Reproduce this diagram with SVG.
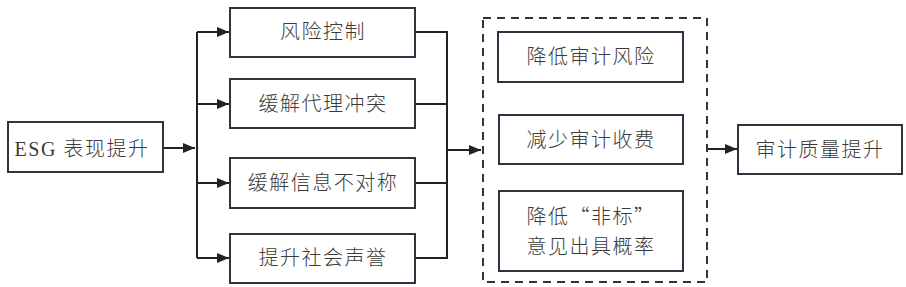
<svg xmlns="http://www.w3.org/2000/svg" width="906" height="287" viewBox="0 0 906 287">
<style>
.box{fill:#fff;stroke:#2f3440;stroke-width:2}
.dash{fill:none;stroke:#2f3440;stroke-width:2;stroke-dasharray:8,6}
.ln{fill:none;stroke:#222;stroke-width:2}
text{font-family:"Liberation Serif","Noto Sans CJK SC",serif;font-size:20px;font-weight:300;fill:#3a3a3a;text-anchor:middle;dominant-baseline:central;letter-spacing:1.5px}
text.cjk{font-family:"Noto Sans CJK SC",sans-serif}
</style>
<defs>
<marker id="ah" markerWidth="12" markerHeight="10" refX="12" refY="5" orient="auto" markerUnits="userSpaceOnUse">
<path d="M0,0 L12,5 L0,10 Z" fill="#222"/>
</marker>
</defs>
<rect width="906" height="287" fill="#fff"/>
<g id="connectors">
<path class="ln" d="M163,148 H195" marker-end="url(#ah)"/>
<path class="ln" d="M197,32 V258"/>
<path class="ln" d="M197,32 H229" marker-end="url(#ah)"/>
<path class="ln" d="M197,104 H229" marker-end="url(#ah)"/>
<path class="ln" d="M197,183 H229" marker-end="url(#ah)"/>
<path class="ln" d="M197,258 H229" marker-end="url(#ah)"/>
<path class="ln" d="M415,32 H447 M415,104 H447 M415,183 H447 M415,258 H447 M447,31 V259"/>
<path class="ln" d="M447,150 H481" marker-end="url(#ah)"/>
<path class="ln" d="M708,149 H737" marker-end="url(#ah)"/>
</g>
<g id="esg"><rect class="box" x="8" y="122" width="155" height="50"/><text x="82" y="149">ESG 表现提升</text></g>
<g id="n1"><rect class="box" x="230" y="8" width="185" height="49"/><text x="323" y="32">风险控制</text></g>
<g id="n2"><rect class="box" x="230" y="79" width="185" height="49"/><text x="323" y="104">缓解代理冲突</text></g>
<g id="n3"><rect class="box" x="230" y="158" width="185" height="50"/><text x="323" y="183">缓解信息不对称</text></g>
<g id="n4"><rect class="box" x="230" y="234" width="185" height="49"/><text x="323" y="258">提升社会声誉</text></g>
<g id="group"><rect class="dash" x="483" y="18" width="224" height="264"/></g>
<g id="m1"><rect class="box" x="498" y="32" width="185" height="50"/><text x="591" y="57">降低审计风险</text></g>
<g id="m2"><rect class="box" x="499" y="115" width="184" height="49"/><text x="591" y="140">减少审计收费</text></g>
<g id="m3"><rect class="box" x="499" y="191" width="184" height="80"/><text class="cjk" x="591" y="215">降低“非标”</text><text x="591" y="247">意见出具概率</text></g>
<g id="out"><rect class="box" x="738" y="125" width="164" height="49"/><text x="820" y="150">审计质量提升</text></g>
</svg>
